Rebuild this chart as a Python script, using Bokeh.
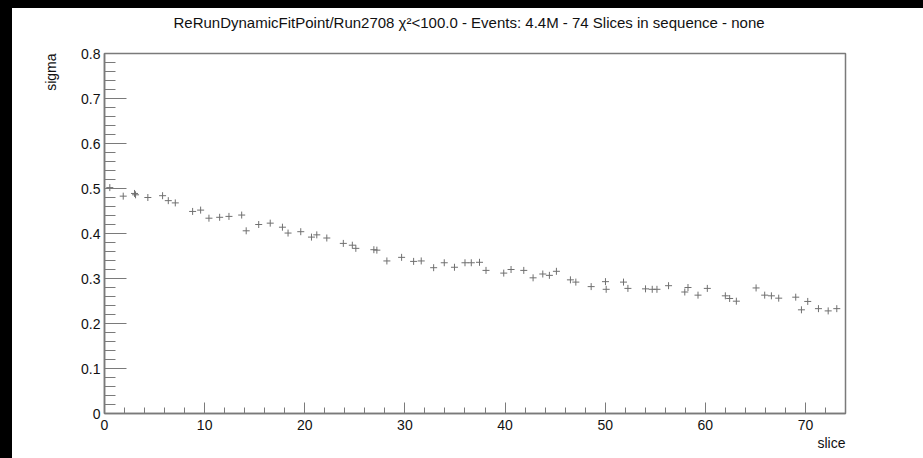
import math
from bokeh.plotting import figure
from bokeh.layouts import column, row
from bokeh.models import (Spacer, SingleIntervalTicker, CustomJSTickFormatter,
                          Title, Range1d, ColumnDataSource)
from bokeh.embed import file_html
from bokeh.resources import INLINE

# ---- data ----
slice_x = [0.53, 1.87, 3.0, 3.1, 4.33, 5.8, 6.37, 7.07, 8.8, 9.6,
           10.43, 11.5, 12.43, 13.7, 14.15, 15.4, 16.55, 17.77, 18.33, 19.6,
           20.67, 21.2, 22.2, 23.85, 24.75, 25.1, 26.9, 27.2, 28.2, 29.67,
           30.87, 31.63, 32.87, 33.93, 34.95, 36.0, 36.63, 37.45, 38.1, 39.87,
           40.6, 41.87, 42.8, 43.77, 44.43, 45.13, 46.53, 47.07, 48.6, 50.03,
           50.1, 51.83, 52.27, 54.03, 54.7, 55.17, 56.33, 57.95, 58.27, 59.27,
           60.2, 62.0, 62.43, 63.1, 65.07, 65.93, 66.6, 67.33, 69.03, 69.6,
           70.23, 71.3, 72.27, 73.13]
sigma = [0.502, 0.483, 0.489, 0.486, 0.480, 0.484, 0.473, 0.468, 0.449, 0.452,
         0.434, 0.436, 0.438, 0.441, 0.406, 0.420, 0.423, 0.414, 0.401, 0.404,
         0.392, 0.397, 0.390, 0.378, 0.374, 0.367, 0.364, 0.363, 0.339, 0.347,
         0.338, 0.339, 0.324, 0.335, 0.325, 0.335, 0.335, 0.336, 0.318, 0.312,
         0.320, 0.318, 0.3015, 0.310, 0.307, 0.316, 0.297, 0.292, 0.282, 0.293,
         0.276, 0.292, 0.278, 0.277, 0.276, 0.276, 0.284, 0.270, 0.280, 0.263,
         0.278, 0.2615, 0.2556, 0.2496, 0.279, 0.263, 0.2615, 0.2563, 0.2585, 0.2304,
         0.249, 0.233, 0.228, 0.233]

title_text = "ReRunDynamicFitPoint/Run2708 \u03c7\u00b2<100.0 - Events: 4.4M - 74 Slices in sequence - none"
x_title = "slice"
y_title = "sigma"

FONT = "Liberation Sans"
AXC = "#7a7a7a"
TXT = "#111111"

p = figure(width=911, height=450, output_backend="svg", toolbar_location=None,
           x_range=Range1d(0, 74), y_range=Range1d(0, 0.8),
           min_border_left=92, min_border_right=78, min_border_top=45, min_border_bottom=45)
p.title.text = title_text
p.title.align = "left"
p.title.offset = 69
p.title.vertical_align = "bottom"
p.title.standoff = 0
p.title.text_font = FONT
p.title.text_font_size = "15px"
p.title.text_font_style = "normal"
p.title.text_color = TXT

p.xgrid.visible = False
p.ygrid.visible = False
p.background_fill_color = "white"
p.border_fill_color = "white"
p.outline_line_color = AXC
p.outline_line_width = 1.5

src = ColumnDataSource(dict(x=slice_x, y=sigma))
p.scatter("x", "y", source=src, marker="cross", size=7, line_color="#707070", line_width=1)

fmt = CustomJSTickFormatter(code="var s = tick.toFixed(1); return s.replace(/\\.0$/, '');")

xa = p.xaxis[0]
xa.ticker = SingleIntervalTicker(interval=10, num_minor_ticks=5)
xa.formatter = fmt
xa.major_tick_in = 11
xa.major_tick_out = 0
xa.minor_tick_in = 6
xa.minor_tick_out = 0
xa.axis_line_color = AXC
xa.axis_line_width = 1.5
xa.major_tick_line_color = AXC
xa.minor_tick_line_color = AXC
xa.major_label_text_font = FONT
xa.major_label_text_font_size = "14px"
xa.major_label_text_color = TXT
xa.major_label_standoff = 6

ya = p.yaxis[0]
ya.ticker = SingleIntervalTicker(interval=0.1, num_minor_ticks=5)
ya.formatter = fmt
ya.major_tick_in = 22
ya.major_tick_out = 0
ya.minor_tick_in = 11
ya.minor_tick_out = 0
ya.axis_line_color = AXC
ya.axis_line_width = 1.5
ya.major_tick_line_color = AXC
ya.minor_tick_line_color = AXC
ya.major_label_text_font = FONT
ya.major_label_text_font_size = "14px"
ya.major_label_text_color = TXT
ya.major_label_standoff = 4

# blank spacer panels to push the titles outward
p.add_layout(Title(text=" ", text_font_size="10px", standoff=10), "above")
p.add_layout(Title(text=" ", text_font_size="10px", standoff=5), "left")
p.add_layout(Title(text=y_title, align="right", vertical_align="top", text_font=FONT,
                   text_font_size="14px", text_font_style="normal", text_color=TXT,
                   standoff=0), "left")
p.add_layout(Title(text=x_title, align="right", text_font=FONT, text_font_size="14px",
                   text_font_style="normal", text_color=TXT, standoff=0), "below")

top = Spacer(width=923, height=8, styles={"background-color": "black"})
left = Spacer(width=12, height=450, styles={"background-color": "black"})
layout = column(top, row(left, p, spacing=0), spacing=0)

open("out.html", "w").write(file_html(layout, INLINE))
